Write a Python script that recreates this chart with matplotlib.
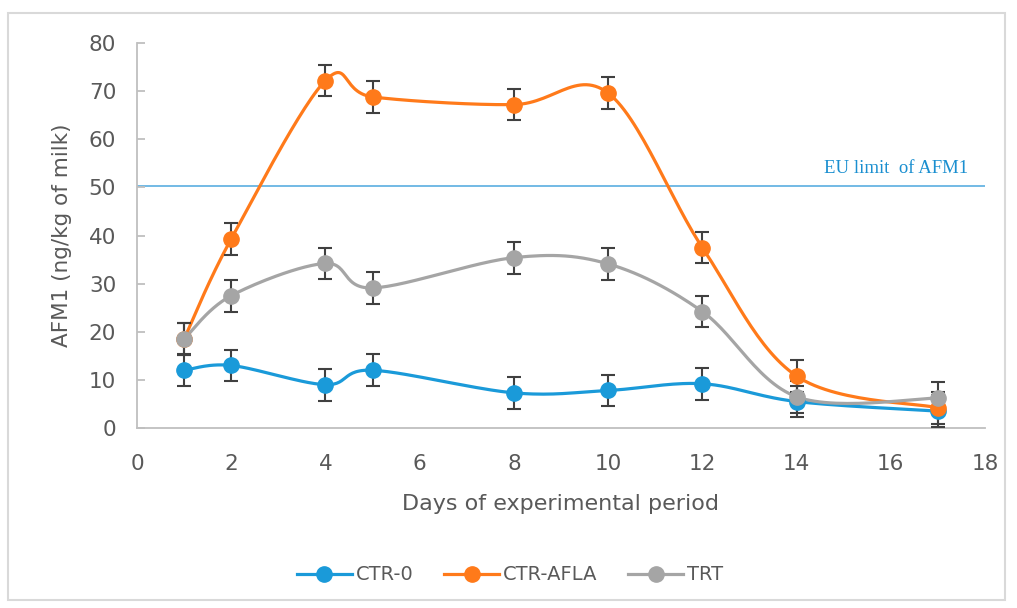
import numpy as np
import matplotlib.pyplot as plt
import matplotlib.patches as mpl_patches

days = [1, 2, 4, 5, 8, 10, 12, 14, 17]
ctr0 = [12.0, 13.0, 9.0, 12.0, 7.3, 7.8, 9.2, 5.5, 3.5]
ctr_afla = [18.5, 39.3, 72.2, 68.8, 67.2, 69.6, 37.5, 10.8, 4.2]
trt = [18.5, 27.5, 34.2, 29.1, 35.4, 34.1, 24.2, 6.5, 6.2]
err = [3.3, 3.3, 3.3, 3.3, 3.3, 3.3, 3.3, 3.3, 3.3]
eu_limit = 50.3

series = [("CTR-0", ctr0, "#1a9ad9"),
          ("CTR-AFLA", ctr_afla, "#ff7a1a"),
          ("TRT", trt, "#a5a5a5")]


def smooth(x, y, n=30):
    # excel-like smoothed line: catmull-rom through the points
    x = np.asarray(x, float)
    y = np.asarray(y, float)
    px = np.concatenate([[x[0]], x, [x[-1]]])
    py = np.concatenate([[y[0]], y, [y[-1]]])
    xs, ys = [], []
    t = np.linspace(0, 1, n)
    for i in range(1, len(px) - 2):
        p0 = np.array([px[i], py[i]])
        p3 = np.array([px[i + 1], py[i + 1]])
        c1 = p0 + (p3 - np.array([px[i - 1], py[i - 1]])) / 6.
        c2 = p3 - (np.array([px[i + 2], py[i + 2]]) - p0) / 6.
        b = ((1 - t) ** 3)[:, None] * p0 + (3 * (1 - t) ** 2 * t)[:, None] * c1 \
            + (3 * (1 - t) * t ** 2)[:, None] * c2 + (t ** 3)[:, None] * p3
        xs.extend(b[:, 0])
        ys.extend(b[:, 1])
    return np.array(xs), np.array(ys)


fig = plt.figure(figsize=(10.17, 6.08), dpi=100)
fig.patches.append(mpl_patches.Rectangle((8 / 1017, 8 / 608), 997 / 1017, 587 / 608,
                                         transform=fig.transFigure, fill=False,
                                         ec="#d9d9d9", lw=1.5))
ax = fig.add_axes([137 / 1017, 180 / 608, 848 / 1017, 385 / 608])

ax.plot([0, 18], [eu_limit, eu_limit], color="#5aaee0", lw=1.2, zorder=1)
ax.text(17.65, eu_limit + 1.8, "EU limit  of AFM1", color="#1a8fd0",
        family="Liberation Serif", fontsize=13.5, ha="right", va="bottom")

for name, vals, col in series:
    sx, sy = smooth(days, vals)
    ax.plot(sx, sy, color=col, lw=2.3, zorder=2)
    ax.errorbar(days, vals, yerr=err, fmt="none", ecolor="#404040",
                elinewidth=1.5, capsize=5, capthick=1.5, zorder=3)
    ax.plot(days, vals, "o", color=col, ms=11, zorder=4)

ax.set_xlim(0, 18)
ax.set_ylim(0, 80)
ax.set_xticks(range(0, 19, 2))
ax.set_yticks(range(0, 81, 10))
for s in ["top", "right"]:
    ax.spines[s].set_visible(False)
ax.spines["left"].set_color("#bfbfbf")
ax.spines["bottom"].set_color("#bfbfbf")
ax.spines["left"].set_linewidth(1.3)
ax.spines["bottom"].set_linewidth(1.3)
ax.tick_params(axis="x", length=0, pad=19, labelsize=15.5, labelcolor="#595959")
ax.tick_params(axis="y", direction="in", length=6, color="#bfbfbf", width=1.3, pad=15,
               labelsize=15.5, labelcolor="#595959")
ax.set_xlabel("Days of experimental period", fontsize=16, color="#595959", labelpad=14)
ax.set_ylabel("AFM1 (ng/kg of milk)", fontsize=15.5, color="#595959", labelpad=12)

handles = [plt.Line2D([], [], color=c, lw=2.3, marker="o", ms=11) for _, _, c in series]
fig.legend(handles, [n for n, _, _ in series], loc="center", ncol=3,
           bbox_to_anchor=(510 / 1017, 1 - 575 / 608), frameon=False,
           fontsize=14, labelcolor="#595959", handlelength=2.8,
           handletextpad=0.2, columnspacing=1.6)

fig.savefig("out.png", dpi=100)
